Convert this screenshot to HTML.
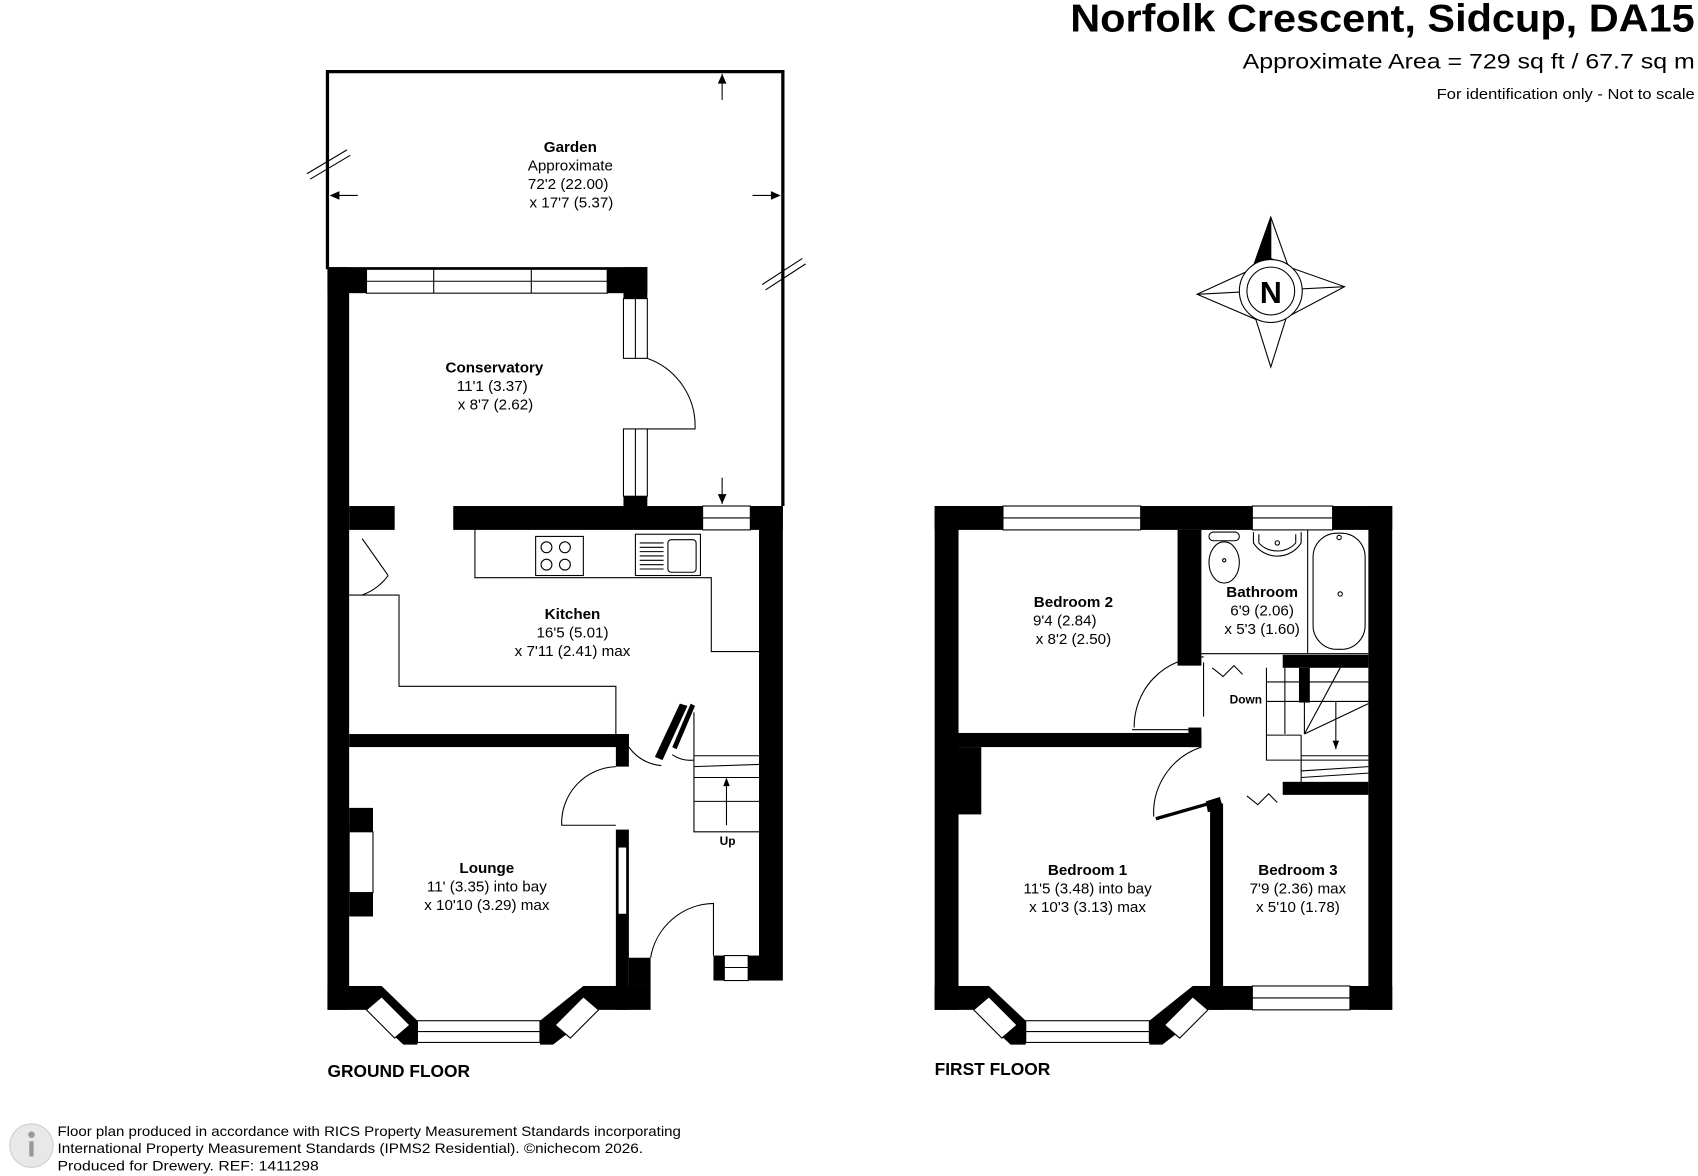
<!DOCTYPE html>
<html><head><meta charset="utf-8"><style>
html,body{margin:0;padding:0;background:#fff;}
svg{display:block}
text{font-family:"Liberation Sans",Arial,sans-serif;fill:#000}
</style></head><body>
<svg width="1698" height="1176" viewBox="0 0 1566 1083" preserveAspectRatio="none" xmlns="http://www.w3.org/2000/svg">
<rect width="1566" height="1083" fill="#fff"/>
<!-- Title -->
<text x="987" y="29" font-size="36" font-weight="bold" textLength="576" lengthAdjust="spacingAndGlyphs">Norfolk Crescent, Sidcup, DA15</text>
<text x="1146" y="63" font-size="20" textLength="417" lengthAdjust="spacingAndGlyphs">Approximate Area = 729 sq ft / 67.7 sq m</text>
<text x="1325" y="91" font-size="14" textLength="238" lengthAdjust="spacingAndGlyphs">For identification only - Not to scale</text>

<!-- Garden -->
<g stroke="#000" fill="none">
<path d="M302,248 V66 H722 V466" stroke-width="3"/>
<path d="M283,160 L320,138 M286,165 L323,143" stroke-width="1"/>
<path d="M703,262 L740,238 M706,267 L743,243" stroke-width="1"/>
<path d="M666,68 V92 M666,440 V464 M306,180 H330 M694,180 H718" stroke-width="1"/>
</g>
<g fill="#000">
<path d="M666,68 l-4,9 h8z M666,464 l-4,-9 h8z M304,180 l9,-4 v8z M720,180 l-9,-4 v8z"/>
</g>

<!-- Ground floor walls -->
<g fill="#000">
<rect x="302" y="246" width="20" height="684"/>
<rect x="302" y="246" width="295" height="24"/>
<rect x="575" y="246" width="22" height="30"/>
<rect x="575" y="457" width="22" height="9"/>
<rect x="418" y="466" width="304" height="22"/>
<rect x="322" y="466" width="42" height="22"/>
<rect x="700" y="466" width="22" height="437"/>
<rect x="322" y="676" width="258" height="12"/>
<rect x="568" y="676" width="12" height="30"/>
<rect x="568" y="764" width="12" height="166"/>
<rect x="322" y="744" width="22" height="22"/>
<rect x="322" y="822" width="22" height="22"/>
<rect x="302" y="908" width="50" height="22"/>
<rect x="538" y="908" width="62" height="22"/>
<rect x="580" y="882" width="20" height="26"/>
<rect x="658" y="880" width="10" height="23"/>
<rect x="690" y="880" width="10" height="23"/>
<polygon points="352,908 385,940 385,962 372,962 338,930 338,908"/>
<polygon points="538,908 498,940 498,962 510,962 552,930 552,908"/>
</g>
<!-- GF windows -->
<g fill="#fff" stroke="#000" stroke-width="1">
<rect x="338" y="248" width="222" height="22"/>
<line x1="338" y1="259" x2="560" y2="259"/>
<line x1="400" y1="248" x2="400" y2="270"/><line x1="490" y1="248" x2="490" y2="270"/>
<rect x="575" y="275" width="22" height="55"/><line x1="586" y1="275" x2="586" y2="330"/>
<rect x="575" y="395" width="22" height="62"/><line x1="586" y1="395" x2="586" y2="457"/>
<rect x="648" y="466" width="44" height="22"/><line x1="648" y1="477" x2="692" y2="477"/>
<rect x="322" y="766" width="22" height="56"/>
<rect x="570" y="780" width="8" height="62"/>
<rect x="668" y="880" width="22" height="23"/><line x1="668" y1="891" x2="690" y2="891"/>
<rect x="385" y="940" width="113" height="20"/><line x1="385" y1="950" x2="498" y2="950"/>
<polygon points="338,930 352,918 378,944 364,956"/>
<polygon points="552,930 538,918 512,944 526,956"/>
</g>
<!-- GF interior lines -->
<g fill="none" stroke="#000" stroke-width="1">
<path d="M438,488 V532 H656 V600 H700"/>
<path d="M322,548 H368 V632 H568 V676"/>
<path d="M334,496 L358,530 M334,548 A52,52 0 0 0 358,530"/>
<path d="M597,330 A66,66 0 0 1 641,395 H597"/>
<path d="M568,706 A52,52 0 0 0 518,760 H568"/>
<path d="M600,882 A60,60 0 0 1 658,832 V880"/>
<path d="M580,688 A40,40 0 0 0 610,705"/>
<path d="M640,656 V766 H700 M640,696 H700 M640,716 H700 M640,738 H700 M640,706 L700,704"/>
<path d="M670,760 V718"/>
<path d="M620,695 A30,30 0 0 0 640,700"/>
</g>
<g fill="#000">
<polygon points="627,648 634,650 611,700 604,697"/>
<polygon points="637,648 641,650 624,690 620,688"/>
<path d="M670,716 l-3,8 h6z"/>
</g>
<!-- Hob & sink -->
<g fill="none" stroke="#000" stroke-width="1">
<rect x="494" y="494" width="44" height="36"/>
<circle cx="504" cy="504" r="5"/><circle cx="521" cy="504" r="5"/><circle cx="504" cy="520" r="5"/><circle cx="521" cy="520" r="5"/>
<rect x="586" y="492" width="60" height="38"/>
<rect x="616" y="497" width="26" height="30" rx="3"/>
<path d="M590,500 H612 M590,504 H612 M590,508 H612 M590,512 H612 M590,516 H612 M590,520 H612 M590,524 H612"/>
</g>

<!-- GF labels -->
<g font-size="14" text-anchor="middle">
<text x="526" y="140" font-weight="bold">Garden</text>
<text x="526" y="157">Approximate</text>
<text x="524" y="174">72'2 (22.00)</text>
<text x="527" y="191">x 17'7 (5.37)</text>
<text x="456" y="343" font-weight="bold">Conservatory</text>
<text x="454" y="360">11'1 (3.37)</text>
<text x="457" y="377">x 8'7 (2.62)</text>
<text x="528" y="570" font-weight="bold">Kitchen</text>
<text x="528" y="587">16'5 (5.01)</text>
<text x="528" y="604">x 7'11 (2.41) max</text>
<text x="449" y="804" font-weight="bold">Lounge</text>
<text x="449" y="821">11' (3.35) into bay</text>
<text x="449" y="838">x 10'10 (3.29) max</text>
<text x="671" y="778" font-size="11" font-weight="bold">Up</text>
</g>
<text x="302" y="992" font-size="16" font-weight="bold">GROUND FLOOR</text>

<!-- First floor walls -->
<g fill="#000">
<rect x="862" y="466" width="422" height="22"/>
<rect x="862" y="466" width="22" height="464"/>
<rect x="1262" y="466" width="22" height="464"/>
<rect x="1086" y="488" width="22" height="125"/>
<rect x="884" y="675" width="224" height="13"/>
<rect x="1096" y="670" width="12" height="18"/>
<rect x="884" y="688" width="21" height="62"/>
<rect x="1183" y="603" width="79" height="12"/>
<rect x="1198" y="615" width="10" height="32"/>
<rect x="1183" y="720" width="79" height="12"/>
<rect x="1116" y="740" width="12" height="190"/>
<polygon points="1112,738 1125,734 1128,744 1114,748"/>
<rect x="862" y="908" width="50" height="22"/>
<rect x="1100" y="908" width="184" height="22"/>
<polygon points="912,908 946,940 946,962 932,962 898,930 898,908"/>
<polygon points="1100,908 1060,940 1060,962 1072,962 1114,930 1114,908"/>
</g>
<g fill="#fff" stroke="#000" stroke-width="1">
<rect x="925" y="466" width="127" height="22"/><line x1="925" y1="477" x2="1052" y2="477"/>
<rect x="1155" y="466" width="74" height="22"/><line x1="1155" y1="477" x2="1229" y2="477"/>
<rect x="946" y="940" width="114" height="20"/><line x1="946" y1="950" x2="1060" y2="950"/>
<rect x="1155" y="908" width="90" height="22"/><line x1="1155" y1="919" x2="1245" y2="919"/>
<polygon points="898,930 912,918 938,944 924,956"/>
<polygon points="1114,930 1100,918 1074,944 1088,956"/>
</g>
<g fill="none" stroke="#000" stroke-width="1">
<path d="M1046,670 A64,64 0 0 1 1110,605"/>
<path d="M1044,672 H1096"/>
<path d="M1064,752 A64,64 0 0 1 1108,688"/>
<path d="M1066,754 L1115,740" stroke-width="3"/>
<path d="M1110,660 V610 M1108,605 H1110"/>
<path d="M1118,615 l10,8 l10,-10 l8,8"/>
<path d="M1150,733 l10,8 l10,-10 l8,8"/>
<path d="M1168,615 V700 H1262 M1168,628 H1262 M1168,646 H1262 M1168,663 V678 M1185,615 V676 M1203,615 V676 M1168,677 H1200 M1200,677 V720 M1200,696 H1262 M1200,716 L1262,712 M1200,710 L1262,706"/>
<path d="M1203,676 L1236,615 M1203,676 L1262,648"/>
<path d="M1232,646 V690"/>
<path d="M1108,602 H1262"/>
<path d="M1206,488 V602"/>
<rect x="1211" y="491" width="48" height="107" rx="22"/>
<circle cx="1236" cy="547" r="2"/><circle cx="1235" cy="495" r="2"/>
<path d="M1156,490 V500 A26,26 0 0 0 1200,500 V490"/>
<path d="M1161,492 V500 A21,18 0 0 0 1195,500 V492"/>
<circle cx="1178" cy="500" r="2"/>
<rect x="1115" y="490" width="28" height="8" rx="4"/>
<ellipse cx="1129" cy="518" rx="14" ry="19"/>
<circle cx="1129" cy="516" r="1.5"/>
</g>
<path d="M1232,690 l-3,-8 h6z" fill="#000"/>

<g font-size="14" text-anchor="middle">
<text x="990" y="559" font-weight="bold">Bedroom 2</text>
<text x="982" y="576">9'4 (2.84)</text>
<text x="990" y="593">x 8'2 (2.50)</text>
<text x="1164" y="550" font-weight="bold">Bathroom</text>
<text x="1164" y="567">6'9 (2.06)</text>
<text x="1164" y="584">x 5'3 (1.60)</text>
<text x="1149" y="648" font-size="11" font-weight="bold">Down</text>
<text x="1003" y="806" font-weight="bold">Bedroom 1</text>
<text x="1003" y="823">11'5 (3.48) into bay</text>
<text x="1003" y="840">x 10'3 (3.13) max</text>
<text x="1197" y="806" font-weight="bold">Bedroom 3</text>
<text x="1197" y="823">7'9 (2.36) max</text>
<text x="1197" y="840">x 5'10 (1.78)</text>
</g>
<text x="862" y="990" font-size="16" font-weight="bold">FIRST FLOOR</text>

<!-- Compass -->
<g stroke="#000" stroke-width="1" fill="#fff">
<polygon points="1172,240 1104,271 1172,300"/>
<polygon points="1172,240 1240,264 1172,300"/>
<polygon points="1150,268 1172,338 1194,268"/>
<line x1="1104" y1="271" x2="1240" y2="264"/>
<polygon points="1172,200 1156,245 1172,238 1188,245" fill="#fff"/>
<polygon points="1172,200 1156,245 1172,240" fill="#000"/>
<circle cx="1172" cy="268" r="29"/>
<circle cx="1172" cy="268" r="22"/>
</g>
<text x="1172" y="279" font-size="28" font-weight="bold" text-anchor="middle">N</text>

<!-- Footer -->
<g>
<circle cx="29" cy="1055" r="20" fill="#e8e8e8" stroke="#ccc"/>
<circle cx="29" cy="1045" r="3" fill="#999"/>
<rect x="27" y="1051" width="4" height="14" fill="#999"/>
</g>
<g font-size="13">
<text x="53" y="1046" fill="#555" textLength="575" lengthAdjust="spacingAndGlyphs">Floor plan produced in accordance with RICS Property Measurement Standards incorporating</text>
<text x="53" y="1062" fill="#555" textLength="540" lengthAdjust="spacingAndGlyphs">International Property Measurement Standards (IPMS2 Residential).  ©nichecom 2026.</text>
<text x="53" y="1078" fill="#555" textLength="241" lengthAdjust="spacingAndGlyphs">Produced for Drewery.   REF:  1411298</text>
</g>
</svg>
</body></html>
